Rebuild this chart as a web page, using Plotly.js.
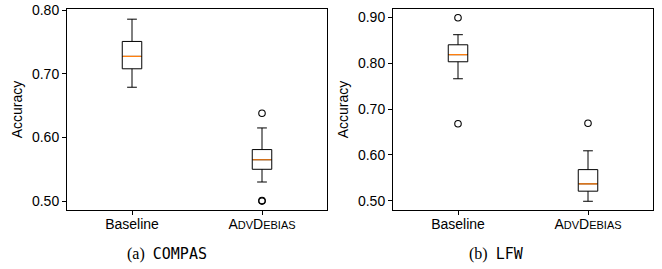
<!DOCTYPE html>
<html>
<head>
<meta charset="utf-8">
<script src="https://cdn.plot.ly/plotly-3.0.1.min.js"></script>
<style>html,body{margin:0;padding:0;background:#fff;}#chart{width:662px;height:269px;}</style>
</head>
<body>
<div id="chart"></div>
<script>
// Categories and tick labels
const categories = ['Baseline', 'AdvDebias'];
const tickLabels = ['Baseline', 'A<span style="font-size:11px">DV</span>D<span style="font-size:11px">EBIAS</span>'];

// (a) COMPAS box statistics, in category order
const compasLower  = [0.679, 0.530];
const compasQ1     = [0.708, 0.550];
const compasMedian = [0.7275, 0.565];
const compasQ3     = [0.751, 0.581];
const compasUpper  = [0.786, 0.615];
const compasOutX   = ['AdvDebias', 'AdvDebias', 'AdvDebias'];
const compasOutY   = [0.638, 0.500, 0.501];

// (b) LFW box statistics
const lfwLower  = [0.766, 0.499];
const lfwQ1     = [0.803, 0.521];
const lfwMedian = [0.8185, 0.537];
const lfwQ3     = [0.840, 0.568];
const lfwUpper  = [0.862, 0.609];
const lfwOutX   = ['Baseline', 'Baseline', 'AdvDebias'];
const lfwOutY   = [0.899, 0.668, 0.669];

const compasTicks = [0.5, 0.6, 0.7, 0.8];
const lfwTicks = [0.5, 0.6, 0.7, 0.8, 0.9];

const FONT = 'Liberation Sans, Arial, sans-serif';
const BOXW = 0.15;

function boxTraces(lo, q1, med, q3, up, xa, ya) {
  return [
    {type: 'box', x: categories, q1: q1, median: med, q3: q3, lowerfence: lo, upperfence: up,
     xaxis: xa, yaxis: ya, width: BOXW, whiskerwidth: 0.5, fillcolor: 'rgba(255,255,255,0)',
     line: {color: '#000', width: 1}, boxpoints: false, hoverinfo: 'skip', showlegend: false},
    {type: 'box', x: categories, q1: med, median: med, q3: med, lowerfence: med, upperfence: med,
     xaxis: xa, yaxis: ya, width: BOXW - 0.01, whiskerwidth: 0, fillcolor: 'rgba(0,0,0,0)',
     line: {color: '#ff7f0e', width: 1.2}, boxpoints: false, hoverinfo: 'skip', showlegend: false}
  ];
}
function outTrace(xs, ys, xa, ya) {
  return {type: 'scatter', mode: 'markers', x: xs, y: ys, xaxis: xa, yaxis: ya,
    marker: {symbol: 'circle-open', size: 6.5, color: '#000', line: {width: 1.1, color: '#000'}},
    hoverinfo: 'skip', showlegend: false};
}

const data = [].concat(
  boxTraces(compasLower, compasQ1, compasMedian, compasQ3, compasUpper, 'x', 'y'),
  [outTrace(compasOutX, compasOutY, 'x', 'y')],
  boxTraces(lfwLower, lfwQ1, lfwMedian, lfwQ3, lfwUpper, 'x2', 'y2'),
  [outTrace(lfwOutX, lfwOutY, 'x2', 'y2')]
);

function xAxis(domain, anchor) {
  return {domain: domain, anchor: anchor, type: 'category', categoryorder: 'array', categoryarray: categories,
    range: [-0.5, 1.5], tickmode: 'array', tickvals: categories, ticktext: tickLabels,
    ticks: 'outside', ticklen: 4, tickwidth: 1, tickcolor: '#000', ticklabelstandoff: -3,
    showline: true, mirror: true, linecolor: '#000', linewidth: 1, showgrid: false, zeroline: false,
    tickfont: {family: FONT, size: 14, color: '#000'}, automargin: false, fixedrange: true};
}
function yAxis(domain, anchor, range, ticks) {
  return {domain: domain, anchor: anchor, range: range, tickmode: 'array', tickvals: ticks,
    tickformat: '.2f', ticks: 'outside', ticklen: 4, tickwidth: 1, tickcolor: '#000',
    showline: true, mirror: true, linecolor: '#000', linewidth: 1, showgrid: false, zeroline: false,
    tickfont: {family: FONT, size: 14, color: '#000'},
    title: {text: 'Accuracy', font: {family: FONT, size: 14, color: '#000'}, standoff: 6},
    automargin: false, fixedrange: true};
}

const yDom = [1 - 210/269, 1 - 9/269];
const layout = {
  width: 662, height: 269,
  margin: {l: 0, r: 0, t: 0, b: 0},
  paper_bgcolor: '#fff', plot_bgcolor: '#fff',
  boxmode: 'overlay',
  xaxis: xAxis([67/662, 327/662], 'y'),
  yaxis: yAxis(yDom, 'x', [0.486, 0.802], compasTicks),
  xaxis2: xAxis([393/662, 653/662], 'y2'),
  yaxis2: yAxis(yDom, 'x2', [0.480, 0.918], lfwTicks),
  annotations: [
    {text: '(a)&nbsp;&nbsp;<span style="font-family:DejaVu Sans Mono;font-size:15px">COMPAS</span>', xref: 'paper', yref: 'paper',
     x: 167/662, y: 1 - 254/269, xanchor: 'center', yanchor: 'middle', showarrow: false,
     font: {family: 'Liberation Serif, serif', size: 16, color: '#000'}},
    {text: '(b)&nbsp;&nbsp;<span style="font-family:DejaVu Sans Mono;font-size:15px">LFW</span>', xref: 'paper', yref: 'paper',
     x: 496.5/662, y: 1 - 254/269, xanchor: 'center', yanchor: 'middle', showarrow: false,
     font: {family: 'Liberation Serif, serif', size: 16, color: '#000'}}
  ]
};

Plotly.newPlot('chart', data, layout, {staticPlot: true, displayModeBar: false});
</script>
</body>
</html>
